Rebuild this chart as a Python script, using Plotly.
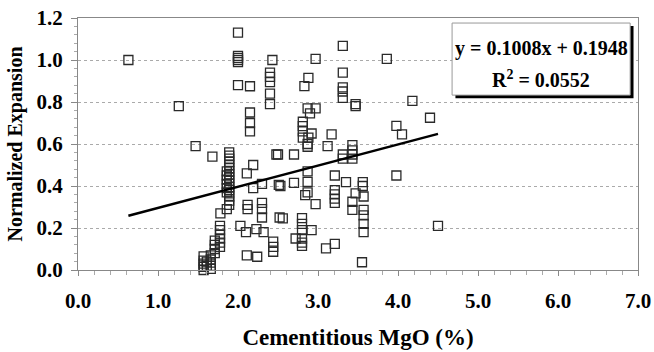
import plotly.graph_objects as go

# Cementitious MgO (%) and normalized expansion
mgo = [
    0.63, 1.26, 1.47, 1.68,
    2.00, 2.00, 2.00, 2.00, 2.00, 2.00,
    2.15, 2.15, 2.15, 2.15,
    2.43, 2.40, 2.40, 2.40, 2.40, 2.40,
    2.48, 2.19, 2.11, 2.19, 2.30, 2.51,
    2.12, 2.12, 2.30, 2.30, 2.30, 1.78, 2.52,
    2.03, 2.10, 2.23, 2.32, 2.44, 2.44, 2.44, 2.11, 2.24,
    1.89, 1.89, 1.89, 1.89, 1.89, 1.89, 1.89, 1.89, 1.89, 1.89, 1.89, 1.89, 1.89, 1.89, 1.89, 1.89, 1.89,
    1.86, 1.86, 1.86, 1.86, 1.86, 1.86, 1.86,
    1.775, 1.775, 1.775, 1.775, 1.775, 1.775,
    1.71, 1.71, 1.71, 1.71,
    1.66, 1.66, 1.66, 1.66, 1.66,
    1.57, 1.57, 1.57, 1.57, 1.57,
    1.61, 1.61,
    2.97, 3.31, 3.86, 3.31, 3.31, 3.31, 3.31,
    2.88, 2.83, 3.47, 3.47, 4.18, 2.87, 2.97, 2.90, 4.40,
    2.81, 2.81, 2.81, 3.98, 4.05, 2.92, 3.17, 2.81, 2.88,
    2.87, 2.87, 3.12, 3.43, 3.43, 3.43, 3.43, 3.31, 3.31,
    2.50, 2.70, 3.98, 2.87, 2.87, 2.87, 2.84, 2.53, 2.70, 2.97,
    3.21, 3.21, 3.21, 3.21, 3.21, 3.35, 3.56, 3.56, 3.47, 3.57,
    3.43, 3.43, 3.57, 3.57, 3.57, 3.57, 2.56,
    2.80, 2.80, 2.80, 2.80, 2.80, 2.80, 2.92, 2.72, 3.10, 3.21, 3.55, 4.50,
]
expansion = [
    1.00, 0.78, 0.59, 0.54,
    1.13, 1.02, 1.01, 1.00, 0.99, 0.88,
    0.875, 0.75, 0.70, 0.66,
    1.00, 0.94, 0.92, 0.895, 0.84, 0.79,
    0.55, 0.50, 0.46, 0.39, 0.41, 0.405,
    0.31, 0.29, 0.32, 0.29, 0.25, 0.27, 0.25,
    0.21, 0.18, 0.195, 0.18, 0.135, 0.11, 0.087, 0.07, 0.063,
    0.56, 0.545, 0.53, 0.515, 0.50, 0.485, 0.47, 0.455, 0.44, 0.425, 0.41, 0.395, 0.38, 0.365, 0.35, 0.33, 0.31,
    0.47, 0.45, 0.43, 0.41, 0.39, 0.37, 0.29,
    0.21, 0.19, 0.17, 0.15, 0.13, 0.11,
    0.14, 0.12, 0.10, 0.08,
    0.07, 0.05, 0.035, 0.02, 0.005,
    0.065, 0.045, 0.03, 0.015, 0.0,
    0.04, 0.02,
    1.005, 1.067, 1.005, 0.94, 0.87, 0.85, 0.82,
    0.915, 0.876, 0.79, 0.78, 0.805, 0.77, 0.77, 0.746, 0.725,
    0.706, 0.685, 0.66, 0.686, 0.646, 0.65, 0.646, 0.63, 0.63,
    0.60, 0.587, 0.59, 0.595, 0.57, 0.55, 0.53, 0.55, 0.53,
    0.55, 0.55, 0.45, 0.47, 0.42, 0.37, 0.357, 0.40, 0.415, 0.314,
    0.45, 0.38, 0.36, 0.34, 0.32, 0.418, 0.418, 0.40, 0.365, 0.35,
    0.325, 0.286, 0.286, 0.26, 0.22, 0.18, 0.246,
    0.247, 0.22, 0.19, 0.15, 0.13, 0.115, 0.19, 0.15, 0.103, 0.124, 0.037, 0.21,
]

# Linear trend line
slope = 0.1008
intercept = 0.1948
trend_x = [0.63, 4.50]
trend_y = [slope * x + intercept for x in trend_x]

x_ticks = [0, 1, 2, 3, 4, 5, 6, 7]
x_labels = ["0.0", "1.0", "2.0", "3.0", "4.0", "5.0", "6.0", "7.0"]
y_ticks = [0.0, 0.2, 0.4, 0.6, 0.8, 1.0, 1.2]
y_labels = ["0.0", "0.2", "0.4", "0.6", "0.8", "1.0", "1.2"]

FONT = "Liberation Serif"

fig = go.Figure()
fig.add_trace(go.Scatter(
    x=mgo, y=expansion, mode="markers",
    marker=dict(symbol="square-open", size=9, color="#2a2a2a", line=dict(width=1.3, color="#2a2a2a")),
    cliponaxis=False, showlegend=False,
))
fig.add_trace(go.Scatter(
    x=trend_x, y=trend_y, mode="lines",
    line=dict(color="black", width=2.5), showlegend=False,
))

# Equation box with drop shadow
bx0, bx1, by0, by1 = 0.668, 0.986, 0.694, 0.980
fig.add_shape(type="rect", xref="paper", yref="paper",
              x0=bx0 + 0.006, x1=bx1 + 0.006, y0=by0 - 0.012, y1=by1 - 0.012,
              fillcolor="black", line=dict(width=0))
fig.add_shape(type="rect", xref="paper", yref="paper",
              x0=bx0, x1=bx1, y0=by0, y1=by1,
              fillcolor="white", line=dict(color="#999999", width=1))
fig.add_annotation(xref="paper", yref="paper", x=(bx0 + bx1) / 2, y=0.878,
                   xanchor="center", yanchor="middle",
                   text="<b>y = 0.1008x + 0.1948</b>", showarrow=False,
                   font=dict(family=FONT, size=20, color="black"))
fig.add_annotation(xref="paper", yref="paper", x=(bx0 + bx1) / 2, y=0.758,
                   xanchor="center", yanchor="middle",
                   text="<b>R<sup>2</sup> = 0.0552</b>", showarrow=False,
                   font=dict(family=FONT, size=20, color="black"))

fig.update_layout(
    width=654, height=352,
    margin=dict(l=78, r=16, t=18, b=82),
    paper_bgcolor="white", plot_bgcolor="white",
    font=dict(family=FONT, color="black"),
    xaxis=dict(
        range=[0, 7], tickvals=x_ticks, ticktext=["<b>%s</b>" % t for t in x_labels],
        showgrid=False, zeroline=False, automargin=False,
        showline=True, linecolor="#888888", linewidth=1, mirror=True,
        ticks="outside", ticklen=5, tickcolor="#888888",
        minor=dict(dtick=0.2, ticks="outside", ticklen=4, tickcolor="#aaaaaa"),
        tickfont=dict(family=FONT, size=21),
        ticklabelstandoff=7,
        title=dict(text="<b>Cementitious MgO (%)</b>", standoff=16,
                   font=dict(family=FONT, size=23)),
    ),
    yaxis=dict(
        range=[0, 1.2], tickvals=y_ticks, ticktext=["<b>%s</b>" % t for t in y_labels],
        showgrid=True, gridcolor="#aaaaaa", griddash="dot", gridwidth=1,
        zeroline=False, automargin=False,
        showline=True, linecolor="#888888", linewidth=1, mirror=True,
        ticks="outside", ticklen=6, tickcolor="#888888",
        minor=dict(dtick=0.04, ticks="outside", ticklen=3, tickcolor="#aaaaaa", showgrid=False),
        tickfont=dict(family=FONT, size=21),
        ticklabelstandoff=4,
        title=dict(text="<b>Normalized Expansion</b>", standoff=8,
                   font=dict(family=FONT, size=20)),
    ),
)

fig.write_html("out.html")
